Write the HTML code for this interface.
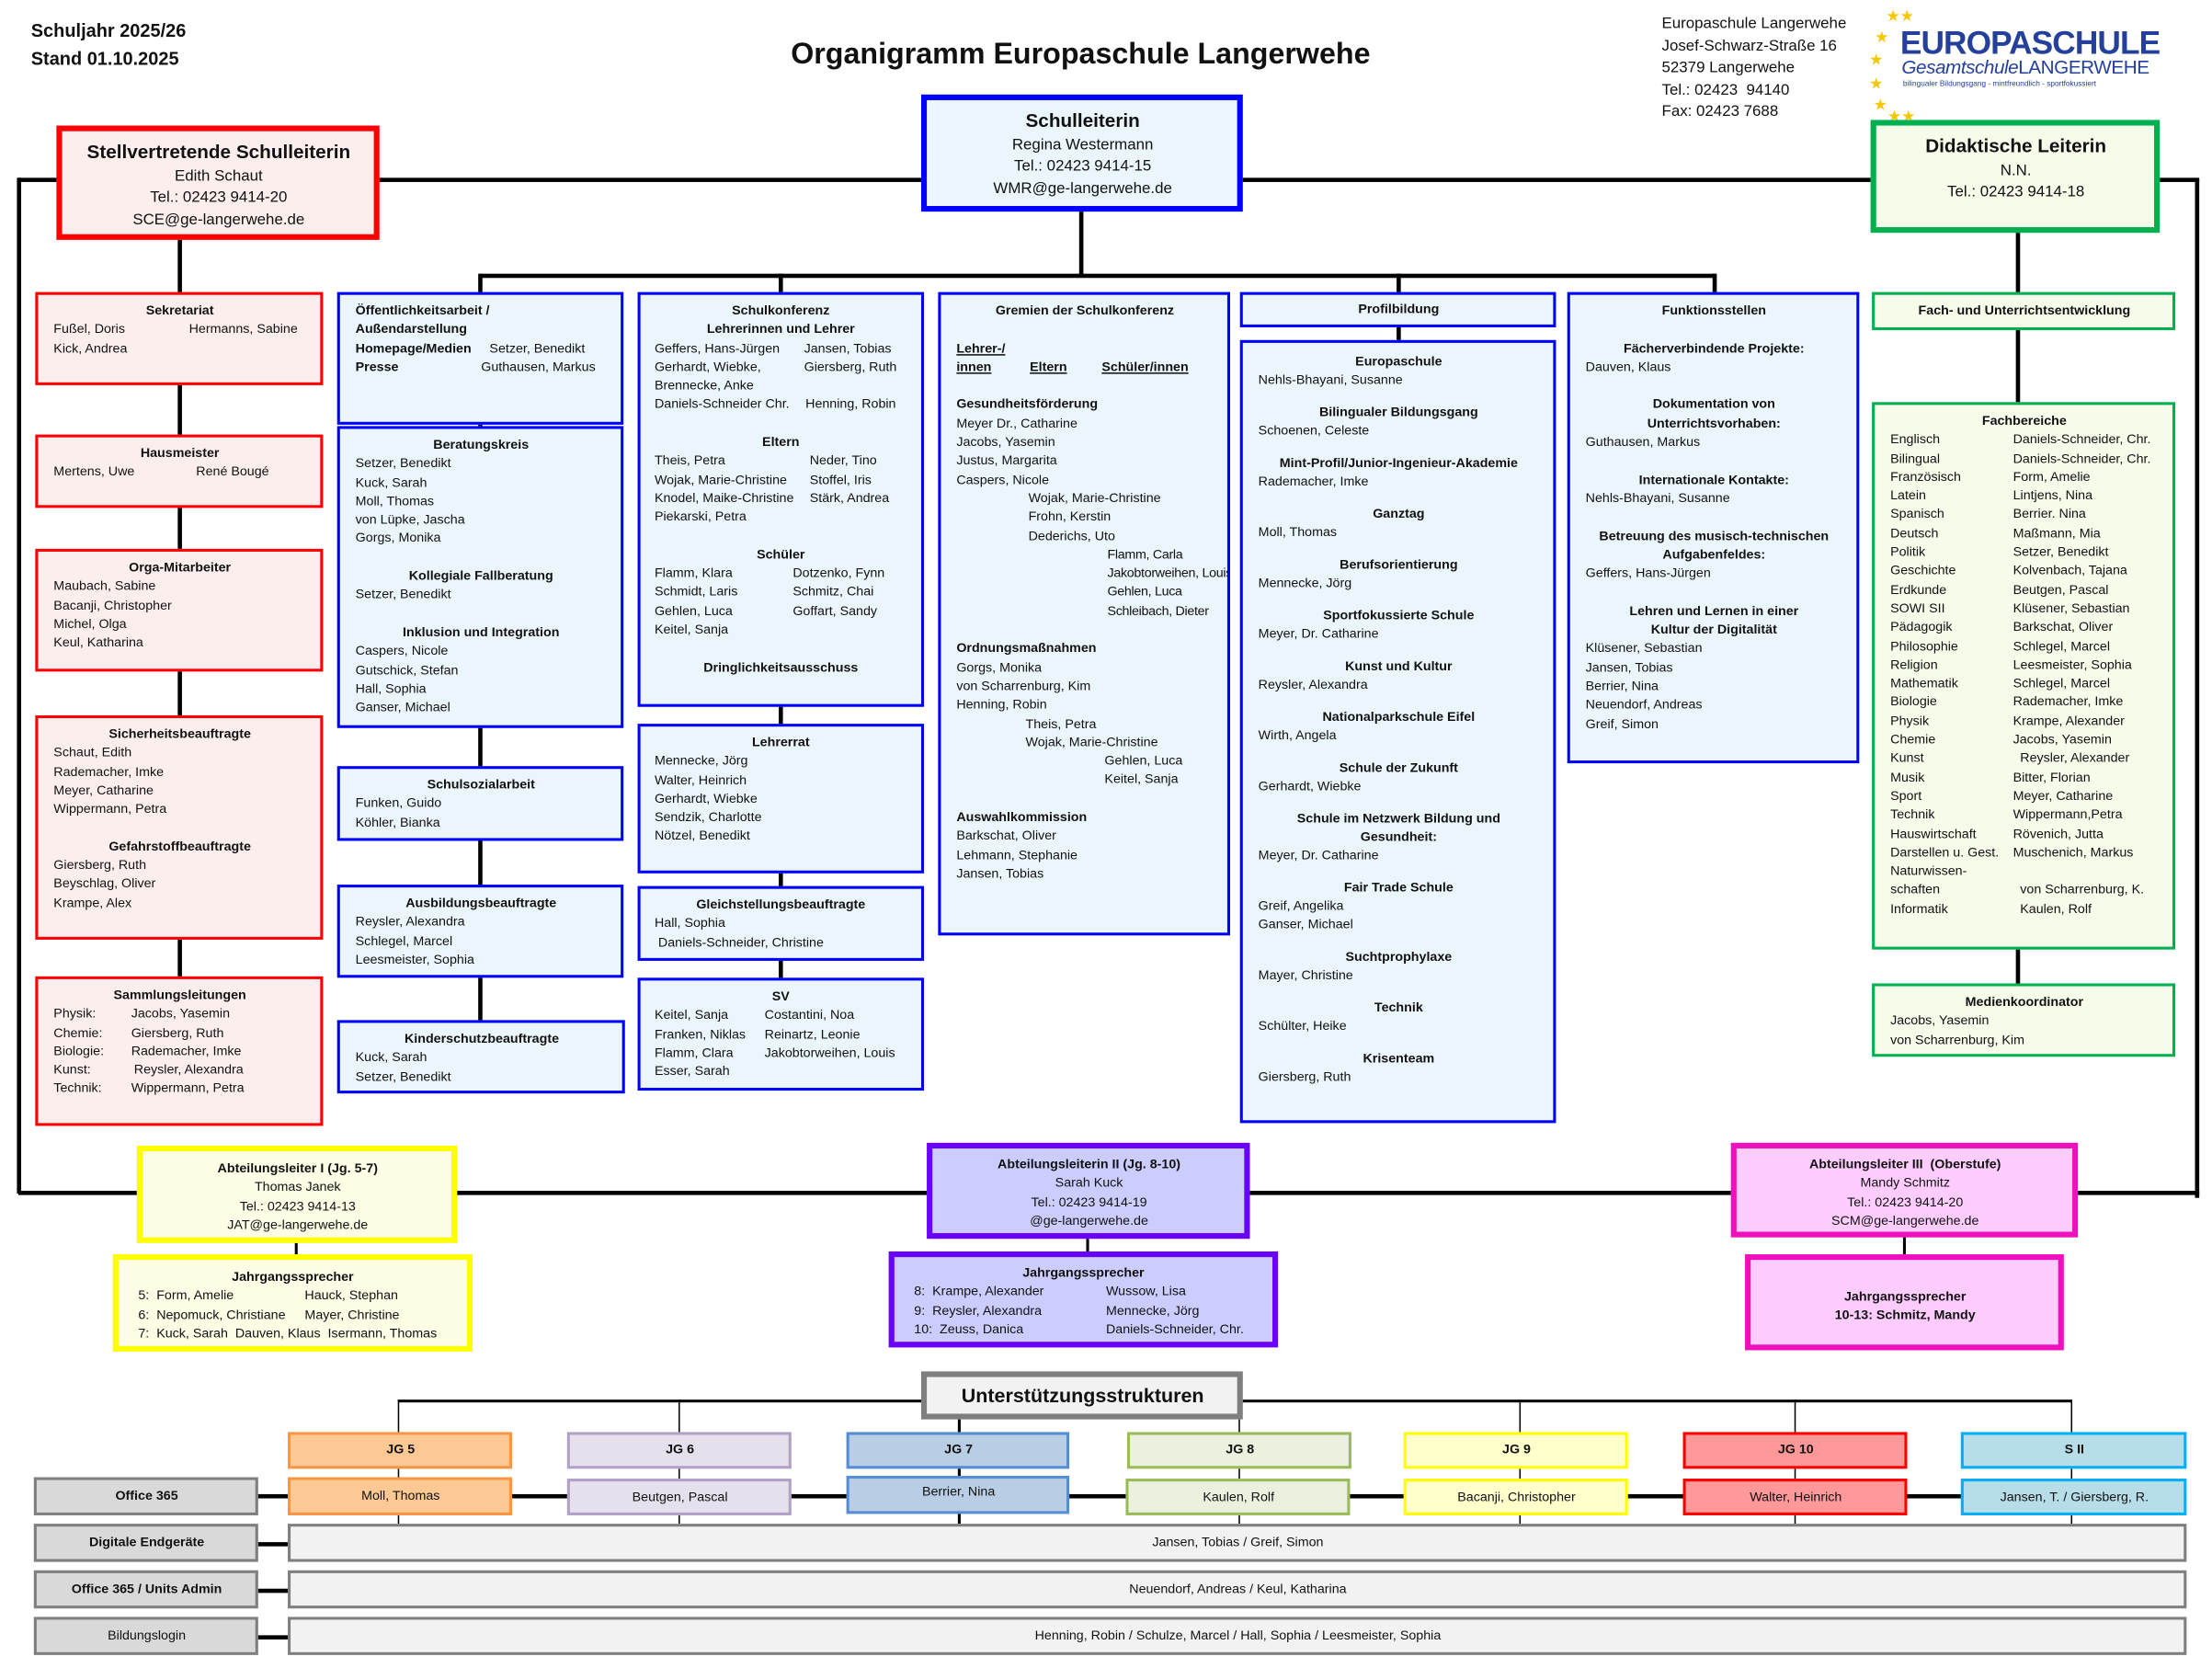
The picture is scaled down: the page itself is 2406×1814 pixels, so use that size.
<!DOCTYPE html>
<html><head><meta charset="utf-8">
<style>
html,body{margin:0;padding:0;background:#fff;}
body{width:2406px;height:1814px;overflow:hidden;position:relative;}
#s{position:absolute;left:0;top:0;width:1568px;height:1182px;transform:scale(1.5344);transform-origin:0 0;font-family:"Liberation Sans Narrow","Liberation Sans",sans-serif;color:#111;}
.b{position:absolute;box-sizing:border-box;font-size:9.3px;line-height:13.3px;padding:5px 10px 0 11px;overflow:hidden;white-space:nowrap;}
.red{border:2.5px solid #f00;background:#fdeeee;}
.blue{border:2.5px solid #00f;background:#eaf6fc;}
.grn{border:2.5px solid #00b050;background:#f7fbea;}
.h{font-weight:bold;text-align:center;}
.c{text-align:center;}
.l{position:absolute;background:#000;}
.r span{display:inline-block;}
.g{height:13.3px;}
u{text-decoration:underline;}
</style></head><body><div id="s">

<!-- header -->
<div style="position:absolute;left:22px;top:12px;font-weight:bold;font-size:13px;line-height:20px;">Schuljahr 2025/26<br>Stand 01.10.2025</div>
<div style="position:absolute;left:553px;top:27px;width:426px;text-align:center;font-weight:bold;font-size:21px;">Organigramm Europaschule Langerwehe</div>
<div style="position:absolute;left:1178px;top:10px;font-size:11px;line-height:15.5px;">Europaschule Langerwehe<br>Josef-Schwarz-Straße 16<br>52379 Langerwehe<br>Tel.: 02423&nbsp; 94140<br>Fax: 02423 7688</div>
<div style="position:absolute;left:1325px;top:5px;width:30px;height:75px;color:#f7c600;font-size:11px;line-height:11px;">
<span style="position:absolute;left:12px;top:2px">★★</span><span style="position:absolute;left:4px;top:17px">★</span><span style="position:absolute;left:0px;top:33px">★</span><span style="position:absolute;left:0px;top:50px">★</span><span style="position:absolute;left:3px;top:65px">★</span><span style="position:absolute;left:13px;top:73px">★★</span></div>
<div style="position:absolute;left:1347px;top:16px;color:#24409a;font-weight:bold;font-size:23px;line-height:28px;letter-spacing:-0.6px;">EUROPASCHULE</div>
<div style="position:absolute;left:1348px;top:40px;color:#24409a;font-size:13.5px;line-height:16px;letter-spacing:-0.3px"><i>Gesamtschule</i>LANGERWEHE</div>
<div style="position:absolute;left:1349px;top:57px;color:#24409a;font-size:5.4px;">bilingualer Bildungsgang - mintfreundlich - sportfokussiert</div>

<!-- main lines -->
<div class="l" style="left:13px;top:126px;width:1546px;height:3px"></div>
<div class="l" style="left:12px;top:126px;width:3px;height:720px"></div>
<div class="l" style="left:1556px;top:127px;width:3px;height:722px"></div>
<div class="l" style="left:13px;top:844px;width:1546px;height:3px"></div>
<div class="l" style="left:765px;top:149px;width:2.5px;height:47px"></div>
<div class="l" style="left:340px;top:194px;width:876px;height:2.5px"></div>
<div class="l" style="left:339px;top:194px;width:2.5px;height:530px"></div>
<div class="l" style="left:552px;top:194px;width:2.5px;height:500px"></div>
<div class="l" style="left:990px;top:194px;width:2.5px;height:50px"></div>
<div class="l" style="left:1214px;top:194px;width:2.5px;height:14px"></div>
<div class="l" style="left:126px;top:169px;width:2.5px;height:524px"></div>
<div class="l" style="left:1429px;top:164px;width:2.5px;height:534px"></div>
<div class="l" style="left:209px;top:880px;width:2px;height:10px"></div>
<div class="l" style="left:770px;top:877px;width:2px;height:11px"></div>
<div class="l" style="left:1349px;top:876px;width:2px;height:14px"></div>

<!-- leadership -->
<div class="b blue" style="left:653px;top:67px;width:228px;height:83px;border-width:4px;font-size:11px;line-height:15.5px;padding-top:6px;text-align:center"><b style="font-size:13.5px;line-height:18px">Schulleiterin</b><br>Regina Westermann<br>Tel.: 02423 9414-15<br>WMR@ge-langerwehe.de</div>
<div class="b red" style="left:40px;top:89px;width:229px;height:81px;border-width:4px;font-size:11px;line-height:15.5px;padding-top:6px;text-align:center;background:#fdeeee"><b style="font-size:13.5px;line-height:18px">Stellvertretende Schulleiterin</b><br>Edith Schaut<br>Tel.: 02423 9414-20<br>SCE@ge-langerwehe.de</div>
<div class="b grn" style="left:1326px;top:85px;width:205px;height:80px;border-width:4px;font-size:11px;line-height:15.5px;padding-top:6px;text-align:center"><b style="font-size:13.5px;line-height:18px">Didaktische Leiterin</b><br>N.N.<br>Tel.: 02423 9414-18</div>

<!-- column 1 red -->
<div class="b red" style="left:25px;top:207px;width:204px;height:66px"><div class="h">Sekretariat</div><div class="r"><span style="width:96px">Fußel, Doris</span>Hermanns, Sabine</div><div>Kick, Andrea</div></div>
<div class="b red" style="left:25px;top:308px;width:204px;height:52px"><div class="h">Hausmeister</div><div class="r"><span style="width:101px">Mertens, Uwe</span>René Bougé</div></div>
<div class="b red" style="left:25px;top:389px;width:204px;height:87px"><div class="h">Orga-Mitarbeiter</div>Maubach, Sabine<br>Bacanji, Christopher<br>Michel, Olga<br>Keul, Katharina</div>
<div class="b red" style="left:25px;top:507px;width:204px;height:159px"><div class="h">Sicherheitsbeauftragte</div>Schaut, Edith<br>Rademacher, Imke<br>Meyer, Catharine<br>Wippermann, Petra<div class="g"></div><div class="h">Gefahrstoffbeauftragte</div>Giersberg, Ruth<br>Beyschlag, Oliver<br>Krampe, Alex</div>
<div class="b red" style="left:25px;top:692px;width:204px;height:106px"><div class="h">Sammlungsleitungen</div>
<div class="r"><span style="width:55px">Physik:</span>Jacobs, Yasemin</div><div class="r"><span style="width:55px">Chemie:</span>Giersberg, Ruth</div><div class="r"><span style="width:55px">Biologie:</span>Rademacher, Imke</div><div class="r"><span style="width:57px">Kunst:</span>Reysler, Alexandra</div><div class="r"><span style="width:55px">Technik:</span>Wippermann, Petra</div></div>

<!-- column 2 -->
<div class="b blue" style="left:239px;top:207px;width:203px;height:94px"><b>Öffentlichkeitsarbeit /</b><br><b>Außendarstellung</b><div class="r"><span style="width:95px;font-weight:bold">Homepage/Medien</span>Setzer, Benedikt</div><div class="r"><span style="width:89px;font-weight:bold">Presse</span>Guthausen, Markus</div></div>
<div class="b blue" style="left:239px;top:302px;width:203px;height:214px"><div class="h">Beratungskreis</div>Setzer, Benedikt<br>Kuck, Sarah<br>Moll, Thomas<br>von Lüpke, Jascha<br>Gorgs, Monika<div class="g"></div><div class="h">Kollegiale Fallberatung</div>Setzer, Benedikt<div class="g"></div><div class="h">Inklusion und Integration</div>Caspers, Nicole<br>Gutschick, Stefan<br>Hall, Sophia<br>Ganser, Michael</div>
<div class="b blue" style="left:239px;top:543px;width:203px;height:53px"><div class="h">Schulsozialarbeit</div>Funken, Guido<br>Köhler, Bianka</div>
<div class="b blue" style="left:239px;top:627px;width:203px;height:66px"><div class="h">Ausbildungsbeauftragte</div>Reysler, Alexandra<br>Schlegel, Marcel<br>Leesmeister, Sophia</div>
<div class="b blue" style="left:239px;top:723px;width:204px;height:52px"><div class="h">Kinderschutzbeauftragte</div>Kuck, Sarah<br>Setzer, Benedikt</div>

<!-- column 3 -->
<div class="b blue" style="left:452px;top:207px;width:203px;height:294px;padding-left:10px"><div class="h">Schulkonferenz</div><div class="h">Lehrerinnen und Lehrer</div>
<div class="r"><span style="width:106px">Geffers, Hans-Jürgen</span>Jansen, Tobias</div><div class="r"><span style="width:106px">Gerhardt, Wiebke,</span>Giersberg, Ruth</div><div>Brennecke, Anke</div><div class="r"><span style="width:107px">Daniels-Schneider Chr.</span>Henning, Robin</div><div class="g"></div>
<div class="h">Eltern</div><div class="r"><span style="width:110px">Theis, Petra</span>Neder, Tino</div><div class="r"><span style="width:110px">Wojak, Marie-Christine</span>Stoffel, Iris</div><div class="r"><span style="width:110px">Knodel, Maike-Christine</span>Stärk, Andrea</div><div>Piekarski, Petra</div><div class="g"></div>
<div class="h">Schüler</div><div class="r"><span style="width:98px">Flamm, Klara</span>Dotzenko, Fynn</div><div class="r"><span style="width:98px">Schmidt, Laris</span>Schmitz, Chai</div><div class="r"><span style="width:98px">Gehlen, Luca</span>Goffart, Sandy</div><div>Keitel, Sanja</div><div class="g"></div><div class="h">Dringlichkeitsausschuss</div></div>
<div class="b blue" style="left:452px;top:513px;width:203px;height:106px;padding-left:10px"><div class="h">Lehrerrat</div>Mennecke, Jörg<br>Walter, Heinrich<br>Gerhardt, Wiebke<br>Sendzik, Charlotte<br>Nötzel, Benedikt</div>
<div class="b blue" style="left:452px;top:628px;width:203px;height:53px;padding-left:10px"><div class="h">Gleichstellungsbeauftragte</div>Hall, Sophia<br>&nbsp;Daniels-Schneider, Christine</div>
<div class="b blue" style="left:452px;top:693px;width:203px;height:80px;padding-left:10px"><div class="h">SV</div><div class="r"><span style="width:78px">Keitel, Sanja</span>Costantini, Noa</div><div class="r"><span style="width:78px">Franken, Niklas</span>Reinartz, Leonie</div><div class="r"><span style="width:78px">Flamm, Clara</span>Jakobtorweihen, Louis</div><div>Esser, Sarah</div></div>

<!-- column 4 -->
<div class="b blue" style="left:665px;top:207px;width:207px;height:456px;padding-right:0"><div class="h" style="padding-right:10px">Gremien der Schulkonferenz</div><div class="g"></div>
<div style="font-weight:bold"><u>Lehrer-/</u></div><div class="r" style="font-weight:bold"><span style="width:52px"><u>innen</u></span><span style="width:51px"><u>Eltern</u></span><u>Schüler/innen</u></div><div class="g"></div>
<b>Gesundheitsförderung</b><br>Meyer Dr., Catharine<br>Jacobs, Yasemin<br>Justus, Margarita<br>Caspers, Nicole
<div style="padding-left:51px">Wojak, Marie-Christine<br>Frohn, Kerstin<br>Dederichs, Uto</div><div style="padding-left:107px;letter-spacing:-0.2px">Flamm, Carla<br>Jakobtorweihen, Louis<br>Gehlen, Luca<br>Schleibach, Dieter</div><div class="g"></div>
<b>Ordnungsmaßnahmen</b><br>Gorgs, Monika<br>von Scharrenburg, Kim<br>Henning, Robin<div style="padding-left:49px">Theis, Petra<br>Wojak, Marie-Christine</div><div style="padding-left:105px">Gehlen, Luca<br>Keitel, Sanja</div><div class="g"></div>
<b>Auswahlkommission</b><br>Barkschat, Oliver<br>Lehmann, Stephanie<br>Jansen, Tobias</div>

<!-- column 5 -->
<div class="b blue" style="left:879px;top:207px;width:224px;height:25px;padding-top:4px"><div class="h">Profilbildung</div></div>
<div class="b blue" style="left:879px;top:241px;width:224px;height:555px;padding-top:7px;line-height:13px">
<div class="h">Europaschule</div>Nehls-Bhayani, Susanne
<div class="h" style="margin-top:10px">Bilingualer Bildungsgang</div>Schoenen, Celeste
<div class="h" style="margin-top:10px">Mint-Profil/Junior-Ingenieur-Akademie</div>Rademacher, Imke
<div class="h" style="margin-top:10px">Ganztag</div>Moll, Thomas
<div class="h" style="margin-top:10px">Berufsorientierung</div>Mennecke, Jörg
<div class="h" style="margin-top:10px">Sportfokussierte Schule</div>Meyer, Dr. Catharine
<div class="h" style="margin-top:10px">Kunst und Kultur</div>Reysler, Alexandra
<div class="h" style="margin-top:10px">Nationalparkschule Eifel</div>Wirth, Angela
<div class="h" style="margin-top:10px">Schule der Zukunft</div>Gerhardt, Wiebke
<div class="h" style="margin-top:10px">Schule im Netzwerk Bildung und<br>Gesundheit:</div>Meyer, Dr. Catharine
<div class="h" style="margin-top:10px">Fair Trade Schule</div>Greif, Angelika<br>Ganser, Michael
<div class="h" style="margin-top:10px">Suchtprophylaxe</div>Mayer, Christine
<div class="h" style="margin-top:10px">Technik</div>Schülter, Heike
<div class="h" style="margin-top:10px">Krisenteam</div>Giersberg, Ruth</div>

<!-- column 6 -->
<div class="b blue" style="left:1111px;top:207px;width:207px;height:334px"><div class="h">Funktionsstellen</div><div class="g"></div>
<div class="h">Fächerverbindende Projekte:</div>Dauven, Klaus<div class="g"></div>
<div class="h">Dokumentation von<br>Unterrichtsvorhaben:</div>Guthausen, Markus<div class="g"></div>
<div class="h">Internationale Kontakte:</div>Nehls-Bhayani, Susanne<div class="g"></div>
<div class="h">Betreuung des musisch-technischen<br>Aufgabenfeldes:</div>Geffers, Hans-Jürgen<div class="g"></div>
<div class="h">Lehren und Lernen in einer<br>Kultur der Digitalität</div>Klüsener, Sebastian<br>Jansen, Tobias<br>Berrier, Nina<br>Neuendorf, Andreas<br>Greif, Simon</div>

<!-- column 7 -->
<div class="b grn" style="left:1327px;top:207px;width:215px;height:27px;padding-top:5px"><div class="h">Fach- und Unterrichtsentwicklung</div></div>
<div class="b grn" style="left:1327px;top:285px;width:215px;height:388px"><div class="h">Fachbereiche</div>
<div class="r"><span style="width:87px">Englisch</span>Daniels-Schneider, Chr.</div>
<div class="r"><span style="width:87px">Bilingual</span>Daniels-Schneider, Chr.</div>
<div class="r"><span style="width:87px">Französisch</span>Form, Amelie</div>
<div class="r"><span style="width:87px">Latein</span>Lintjens, Nina</div>
<div class="r"><span style="width:87px">Spanisch</span>Berrier. Nina</div>
<div class="r"><span style="width:87px">Deutsch</span>Maßmann, Mia</div>
<div class="r"><span style="width:87px">Politik</span>Setzer, Benedikt</div>
<div class="r"><span style="width:87px">Geschichte</span>Kolvenbach, Tajana</div>
<div class="r"><span style="width:87px">Erdkunde</span>Beutgen, Pascal</div>
<div class="r"><span style="width:87px">SOWI SII</span>Klüsener, Sebastian</div>
<div class="r"><span style="width:87px">Pädagogik</span>Barkschat, Oliver</div>
<div class="r"><span style="width:87px">Philosophie</span>Schlegel, Marcel</div>
<div class="r"><span style="width:87px">Religion</span>Leesmeister, Sophia</div>
<div class="r"><span style="width:87px">Mathematik</span>Schlegel, Marcel</div>
<div class="r"><span style="width:87px">Biologie</span>Rademacher, Imke</div>
<div class="r"><span style="width:87px">Physik</span>Krampe, Alexander</div>
<div class="r"><span style="width:87px">Chemie</span>Jacobs, Yasemin</div>
<div class="r"><span style="width:92px">Kunst</span>Reysler, Alexander</div>
<div class="r"><span style="width:87px">Musik</span>Bitter, Florian</div>
<div class="r"><span style="width:87px">Sport</span>Meyer, Catharine</div>
<div class="r"><span style="width:87px">Technik</span>Wippermann,Petra</div>
<div class="r"><span style="width:87px">Hauswirtschaft</span>Rövenich, Jutta</div>
<div class="r"><span style="width:87px">Darstellen u. Gest.</span>Muschenich, Markus</div>
<div>Naturwissen-</div>
<div class="r"><span style="width:92px">schaften</span>von Scharrenburg, K.</div>
<div class="r"><span style="width:92px">Informatik</span>Kaulen, Rolf</div></div>
<div class="b grn" style="left:1327px;top:697px;width:215px;height:52px"><div class="h">Medienkoordinator</div>Jacobs, Yasemin<br>von Scharrenburg, Kim</div>

<!-- Abteilungen -->
<div class="b" style="left:97px;top:812px;width:227px;height:69px;border:4px solid #ff0;background:#fefde6;text-align:center;padding-top:6px"><b>Abteilungsleiter I (Jg. 5-7)</b><br>Thomas Janek<br>Tel.: 02423 9414-13<br>JAT@ge-langerwehe.de</div>
<div class="b" style="left:80px;top:889px;width:255px;height:69px;border:4px solid #ff0;background:#fefde6;padding:6px 0 0 14px"><div class="h" style="padding-right:14px">Jahrgangssprecher</div>
<div class="r"><span style="width:118px">5:&nbsp; Form, Amelie</span>Hauck, Stephan</div><div class="r"><span style="width:118px">6:&nbsp; Nepomuck, Christiane</span>Mayer, Christine</div><div>7:&nbsp; Kuck, Sarah&nbsp; Dauven, Klaus&nbsp; Isermann, Thomas</div></div>

<div class="b" style="left:657px;top:810px;width:229px;height:68px;border:4px solid #6a00ff;background:#ccccff;text-align:center;padding-top:5px"><b>Abteilungsleiterin II (Jg. 8-10)</b><br>Sarah Kuck<br>Tel.: 02423 9414-19<br>@ge-langerwehe.de</div>
<div class="b" style="left:630px;top:887px;width:276px;height:68px;border:4px solid #6a00ff;background:#ccccff;padding:5px 0 0 14px"><div class="h" style="padding-right:14px">Jahrgangssprecher</div>
<div class="r"><span style="width:136px">8:&nbsp; Krampe, Alexander</span>Wussow, Lisa</div><div class="r"><span style="width:136px">9:&nbsp; Reysler, Alexandra</span>Mennecke, Jörg</div><div class="r"><span style="width:136px">10:&nbsp; Zeuss, Danica</span>Daniels-Schneider, Chr.</div></div>

<div class="b" style="left:1227px;top:810px;width:246px;height:67px;border:4px solid #f00fbe;background:#ffccff;text-align:center;padding-top:5px"><b>Abteilungsleiter III&nbsp; (Oberstufe)</b><br>Mandy Schmitz<br>Tel.: 02423 9414-20<br>SCM@ge-langerwehe.de</div>
<div class="b" style="left:1237px;top:889px;width:226px;height:68px;border:4px solid #f00fbe;background:#ffccff;text-align:center;padding-top:20px;font-weight:bold">Jahrgangssprecher<br>10-13: Schmitz, Mandy</div>

<!-- Unterstützungsstrukturen -->
<div class="l" style="left:282px;top:992px;width:1186px;height:1.5px"></div>
<div class="l" style="left:282px;top:992px;width:1px;height:90px"></div>
<div class="l" style="left:481px;top:992px;width:1px;height:90px"></div>
<div class="l" style="left:679px;top:992px;width:2px;height:90px"></div>
<div class="l" style="left:878px;top:992px;width:1px;height:90px"></div>
<div class="l" style="left:1077px;top:992px;width:1px;height:90px"></div>
<div class="l" style="left:1272px;top:992px;width:1px;height:90px"></div>
<div class="l" style="left:1468px;top:992px;width:1px;height:90px"></div>
<div class="l" style="left:182px;top:1059px;width:1368px;height:2.5px"></div>
<div class="l" style="left:182px;top:1093px;width:24px;height:2.5px"></div>
<div class="l" style="left:182px;top:1126px;width:24px;height:2.5px"></div>
<div class="l" style="left:182px;top:1159px;width:24px;height:2.5px"></div>

<div class="b" style="left:653px;top:972px;width:228px;height:34px;border:4px solid #7f7f7f;background:#f2f2f2;text-align:center;font-weight:bold;font-size:14px;line-height:20px;padding-top:3px">Unterstützungsstrukturen</div>

<div class="b h" style="left:204px;top:1015px;width:159px;height:26px;border:2.5px solid #f79646;background:#fcc995;padding-top:4px">JG 5</div>
<div class="b h" style="left:402px;top:1015px;width:159px;height:26px;border:2.5px solid #b2a1c7;background:#e5e0ec;padding-top:4px">JG 6</div>
<div class="b h" style="left:600px;top:1015px;width:158px;height:26px;border:2.5px solid #558ed5;background:#b9cde5;padding-top:4px">JG 7</div>
<div class="b h" style="left:799px;top:1015px;width:159px;height:26px;border:2.5px solid #9bbb59;background:#ebf1de;padding-top:4px">JG 8</div>
<div class="b h" style="left:995px;top:1015px;width:159px;height:26px;border:2.5px solid #ff0;background:#ffffcc;padding-top:4px">JG 9</div>
<div class="b h" style="left:1193px;top:1015px;width:159px;height:26px;border:2.5px solid #f00;background:#ff9999;padding-top:4px">JG 10</div>
<div class="b h" style="left:1390px;top:1015px;width:160px;height:26px;border:2.5px solid #00b0f0;background:#b7dee8;padding-top:4px">S II</div>

<div class="b c" style="left:204px;top:1047px;width:159px;height:27px;border:2.5px solid #f79646;background:#fcc995;padding-top:5px">Moll, Thomas</div>
<div class="b c" style="left:402px;top:1048px;width:159px;height:26px;border:2.5px solid #b2a1c7;background:#e5e0ec;padding-top:5px">Beutgen, Pascal</div>
<div class="b c" style="left:600px;top:1046px;width:158px;height:27px;border:2.5px solid #558ed5;background:#b9cde5;padding-top:3px">Berrier, Nina</div>
<div class="b c" style="left:798px;top:1048px;width:159px;height:26px;border:2.5px solid #9bbb59;background:#ebf1de;padding-top:5px">Kaulen, Rolf</div>
<div class="b c" style="left:995px;top:1048px;width:159px;height:26px;border:2.5px solid #ff0;background:#ffffcc;padding-top:5px">Bacanji, Christopher</div>
<div class="b c" style="left:1193px;top:1048px;width:159px;height:26px;border:2.5px solid #f00;background:#ff9999;padding-top:5px">Walter, Heinrich</div>
<div class="b c" style="left:1390px;top:1048px;width:160px;height:26px;border:2.5px solid #00b0f0;background:#b7dee8;padding-top:5px">Jansen, T. / Giersberg, R.</div>

<div class="b h" style="left:24px;top:1047px;width:159px;height:27px;border:2.5px solid #7f7f7f;background:#d9d9d9;padding-top:5px">Office 365</div>
<div class="b h" style="left:24px;top:1080px;width:159px;height:27px;border:2.5px solid #7f7f7f;background:#d9d9d9;padding-top:5px">Digitale Endgeräte</div>
<div class="b h" style="left:24px;top:1113px;width:159px;height:27px;border:2.5px solid #7f7f7f;background:#d9d9d9;padding-top:5px">Office 365 / Units Admin</div>
<div class="b c" style="left:24px;top:1146px;width:159px;height:27px;border:2.5px solid #7f7f7f;background:#d9d9d9;padding-top:5px">Bildungslogin</div>

<div class="b c" style="left:204px;top:1080px;width:1346px;height:27px;border:2.5px solid #7f7f7f;background:#f2f2f2;padding-top:5px">Jansen, Tobias / Greif, Simon</div>
<div class="b c" style="left:204px;top:1113px;width:1346px;height:27px;border:2.5px solid #7f7f7f;background:#f2f2f2;padding-top:5px">Neuendorf, Andreas / Keul, Katharina</div>
<div class="b c" style="left:204px;top:1146px;width:1346px;height:27px;border:2.5px solid #7f7f7f;background:#f2f2f2;padding-top:5px">Henning, Robin / Schulze, Marcel / Hall, Sophia / Leesmeister, Sophia</div>

</div></body></html>
